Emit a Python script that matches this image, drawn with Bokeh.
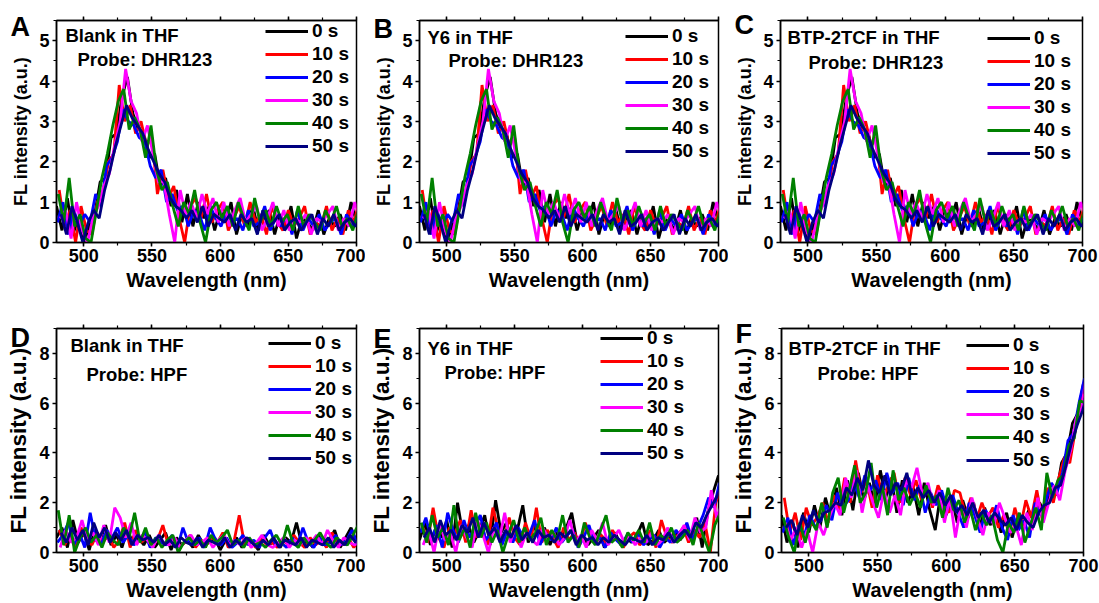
from bokeh.plotting import figure
from bokeh.models import (Range1d, SingleIntervalTicker, LinearAxis, Label, Legend, LegendItem,
                          CustomLabelingPolicy)
from bokeh.layouts import column, row
from bokeh.embed import file_html
from bokeh.resources import INLINE

# ---------------- data ----------------
wavelength = list(range(480, 701, 4))  # nm, 56 readings per curve
series_shift = [0.0, 2.0, 0.7, 2.7, 1.3, 3.3]  # reading positions of each curve (nm)

time_labels = ["0 s", "10 s", "20 s", "30 s", "40 s", "50 s"]
colors = ["#000000", "#ff0000", "#0000ff", "#ff00ff", "#008000", "#000080"]

# DHR123 probe (panels A-C look identical)
dhr_0s = [0.9, 0.3, 1.1, 0.2, 0.6, 0.0, 0.4, 0.7,
          1.5, 1.6, 2.6, 2.7, 3.6, 4.1, 3.2, 2.8,
          2.7, 2.1, 2.2, 1.4, 1.6, 0.9, 1.3, 0.5,
          1.2, 0.4, 1.0, 0.6, 0.9, 0.3, 0.8, 0.5,
          1.0, 0.2, 0.7, 0.4, 0.9, 0.3, 0.6, 0.8,
          0.2, 0.7, 0.4, 0.9, 0.1, 0.6, 0.5, 0.3,
          0.8, 0.2, 0.6, 0.4, 0.7, 0.3, 1.0, 0.5]
dhr_10s = [1.3, 0.4, 0.8, 0.0, 0.9, 0.3, 0.2, 1.0,
           1.2, 2.0, 2.2, 3.9, 3.0, 3.4, 2.7, 3.0,
           2.4, 2.6, 1.2, 1.8, 1.1, 1.4, 0.6, 0.0,
           0.9, 1.1, 0.6, 1.2, 0.5, 0.8, 1.0, 0.3,
           0.6, 0.9, 0.4, 1.0, 0.5, 0.7, 0.2, 0.9,
           0.5, 0.3, 0.8, 0.4, 0.6, 0.9, 0.2, 0.5,
           0.4, 0.9, 0.3, 0.6, 0.2, 0.8, 0.5, 1.0]
dhr_20s = [0.5, 1.0, 0.2, 0.8, 0.4, 0.7, 0.5, 1.2,
           0.9, 1.9, 2.1, 2.5, 3.3, 3.0, 2.9, 2.6,
           2.5, 1.9, 1.6, 1.8, 1.0, 1.2, 0.8, 0.9,
           0.4, 0.8, 0.7, 0.3, 0.9, 0.6, 0.4, 0.8,
           0.5, 0.6, 0.3, 0.8, 0.4, 0.5, 0.9, 0.3,
           0.6, 0.4, 0.7, 0.2, 0.8, 0.3, 0.6, 0.4,
           0.7, 0.3, 0.5, 0.6, 0.2, 0.7, 0.4, 0.6]
dhr_30s = [0.6, 0.8, 0.1, 1.0, 0.3, 0.0, 0.6, 0.9,
           1.4, 1.7, 2.4, 3.0, 4.3, 3.5, 3.2, 2.5,
           2.9, 2.2, 1.5, 1.5, 0.7, 0.0, 1.3, 0.7,
           1.0, 0.6, 1.2, 0.7, 1.1, 0.5, 1.0, 0.4,
           0.8, 1.1, 0.5, 0.7, 0.9, 0.3, 0.6, 1.0,
           0.4, 0.8, 0.3, 0.6, 0.5, 0.7, 0.2, 0.6,
           0.5, 0.7, 0.9, 0.3, 0.6, 0.4, 1.0, 0.6]
dhr_40s = [1.2, 0.5, 1.6, 0.4, 0.7, 0.1, 0.0, 0.8,
           1.6, 2.2, 2.9, 3.5, 3.8, 2.8, 3.1, 2.8,
           2.1, 2.9, 1.8, 1.3, 1.5, 0.9, 0.4, 1.0,
           0.7, 1.3, 0.5, 0.0, 0.8, 1.0, 0.6, 0.9,
           0.4, 1.0, 0.6, 0.3, 1.1, 0.5, 0.8, 0.4,
           0.9, 0.5, 0.7, 0.3, 0.9, 0.4, 0.7, 0.5,
           0.3, 0.8, 0.5, 0.9, 0.4, 0.6, 0.3, 0.8]
dhr_50s = [0.7, 0.2, 0.9, 0.5, 0.0, 0.5, 0.8, 0.6,
           1.3, 1.8, 2.4, 2.9, 3.4, 3.1, 2.9, 2.7,
           2.3, 2.0, 1.7, 1.5, 1.1, 0.9, 0.8, 0.6,
           0.8, 0.5, 0.9, 0.4, 0.7, 0.6, 0.5, 0.7,
           0.3, 0.7, 0.5, 0.6, 0.2, 0.8, 0.4, 0.5,
           0.7, 0.3, 0.5, 0.6, 0.3, 0.5, 0.7, 0.2,
           0.6, 0.4, 0.7, 0.3, 0.5, 0.6, 0.4, 0.6]

# HPF probe, blank (D)
blank_hpf_0s = [0.6, 1.0, 0.2, 1.3, 0.4, 0.8, 0.1, 0.9,
                0.5, 1.1, 0.3, 0.7, 0.2, 0.9, 0.4, 0.6,
                0.3, 0.7, 0.2, 0.5, 0.8, 0.1, 0.6, 0.3,
                0.5, 0.2, 0.7, 0.3, 0.4, 0.6, 0.1, 0.5,
                0.3, 0.6, 0.2, 0.5, 0.4, 0.1, 0.7, 0.3,
                0.5, 0.2, 0.6, 0.4, 1.2, 0.3, 0.5, 0.2,
                0.7, 0.3, 0.5, 0.9, 0.2, 0.6, 1.0, 0.4]
blank_hpf_10s = [0.9, 0.3, 0.7, 0.2, 1.0, 0.5, 0.3, 0.8,
                 0.4, 0.7, 0.2, 0.5, 1.2, 0.2, 0.9, 0.4,
                 0.6, 0.3, 0.5, 1.1, 0.3, 0.6, 0.2, 0.4,
                 0.7, 0.2, 0.5, 0.3, 0.6, 0.4, 0.8, 0.2,
                 0.4, 1.5, 0.3, 0.5, 0.2, 0.6, 0.3, 0.4,
                 0.2, 0.5, 0.3, 0.7, 0.4, 0.2, 0.6, 0.3,
                 0.5, 0.2, 0.8, 0.4, 0.3, 0.6, 0.2, 0.5]
blank_hpf_20s = [0.4, 0.7, 1.2, 0.3, 0.8, 0.2, 1.6, 0.5,
                 0.3, 0.9, 0.6, 1.0, 0.4, 0.7, 0.3, 0.5,
                 0.8, 0.2, 0.6, 0.4, 0.3, 0.7, 0.2, 1.0,
                 0.4, 0.3, 0.6, 0.2, 1.0, 0.5, 0.3, 0.6,
                 0.2, 0.4, 0.7, 0.3, 0.5, 0.2, 0.6, 0.9,
                 0.3, 0.4, 0.2, 0.6, 0.3, 1.0, 0.4, 0.2,
                 0.6, 0.3, 0.4, 0.7, 0.3, 0.5, 0.9, 0.3]
blank_hpf_30s = [0.2, 0.9, 0.4, 0.6, 1.3, 0.5, 0.8, 0.3,
                 1.1, 0.4, 1.8, 1.4, 0.6, 1.2, 0.3, 0.7,
                 0.5, 0.2, 0.7, 0.4, 0.3, 0.6, 0.2, 0.5,
                 0.7, 0.3, 0.4, 0.6, 0.2, 0.5, 0.7, 0.3,
                 0.5, 0.3, 0.6, 0.2, 0.4, 0.7, 0.3, 0.2,
                 0.4, 0.6, 0.2, 0.5, 0.3, 0.6, 0.4, 0.7,
                 0.3, 0.9, 0.5, 0.2, 0.6, 0.4, 0.3, 0.5]
blank_hpf_40s = [1.7, 0.3, 1.5, 0.0, 0.6, 1.0, 0.4, 0.7,
                 0.2, 0.8, 0.5, 0.3, 1.0, 0.6, 1.6, 0.4,
                 1.0, 0.3, 0.6, 0.2, 0.5, 0.7, 0.0, 0.4,
                 0.6, 0.3, 0.5, 0.2, 0.7, 0.4, 0.6, 0.9,
                 0.3, 0.5, 0.2, 0.6, 0.3, 0.4, 0.2, 0.5,
                 0.7, 0.3, 1.1, 0.4, 0.2, 0.6, 0.3, 0.5,
                 0.8, 0.4, 0.2, 0.6, 0.4, 0.3, 0.7, 1.1]
blank_hpf_50s = [0.8, 0.4, 1.0, 0.5, 0.9, 0.3, 1.2, 0.6,
                 1.0, 0.4, 0.8, 0.5, 0.9, 0.3, 0.7, 0.5,
                 0.6, 0.4, 0.7, 0.3, 0.5, 0.2, 0.6, 0.4,
                 0.3, 0.6, 0.2, 0.5, 0.4, 0.3, 0.6, 0.2,
                 0.5, 0.3, 0.6, 0.4, 0.2, 0.5, 0.3, 0.6,
                 0.2, 0.5, 0.4, 0.3, 0.6, 0.2, 0.5, 0.4,
                 0.3, 0.6, 0.2, 0.5, 0.3, 0.7, 0.4, 0.6]

# HPF probe, Y6 (E)
y6_hpf_0s = [0.5, 1.2, 0.3, 1.0, 0.6, 1.3, 0.2, 2.0,
             0.7, 1.1, 0.4, 0.9, 1.5, 0.3, 2.1, 0.8,
             1.2, 0.5, 0.9, 1.9, 0.4, 1.1, 0.6, 1.0,
             0.3, 0.8, 0.5, 1.0, 1.6, 0.4, 0.7, 0.3,
             0.6, 0.9, 0.2, 0.5, 0.8, 0.3, 0.6, 0.4,
             0.7, 1.2, 0.3, 0.5, 0.9, 0.4, 0.6, 0.8,
             0.5, 1.1, 0.7, 1.4, 0.2, 1.6, 2.4, 3.1]
y6_hpf_10s = [1.1, 0.4, 1.8, 0.6, 0.2, 1.0, 0.7, 1.3,
              0.4, 1.7, 0.6, 1.0, 0.3, 1.8, 0.9, 0.5,
              1.4, 0.6, 0.3, 1.2, 0.5, 1.8, 0.4, 0.9,
              0.6, 0.2, 1.0, 0.5, 0.8, 0.3, 1.2, 0.6,
              0.4, 0.7, 0.3, 0.9, 0.5, 0.2, 0.6, 0.8,
              0.3, 0.5, 0.9, 0.2, 1.3, 0.6, 0.4, 0.7,
              1.0, 0.4, 0.9, 0.6, 1.2, 0.0, 2.0, 2.6]
y6_hpf_20s = [0.8, 1.4, 0.5, 1.1, 0.2, 1.6, 0.9, 0.4,
              1.3, 0.6, 1.0, 1.5, 0.5, 0.8, 1.2, 0.3,
              0.9, 0.4, 1.0, 0.6, 0.7, 1.3, 0.3, 0.8,
              0.5, 1.0, 0.4, 0.7, 0.9, 0.2, 0.6, 1.1,
              0.4, 0.6, 0.2, 0.8, 0.5, 0.3, 0.7, 0.4,
              0.8, 0.3, 0.5, 0.7, 0.2, 0.6, 0.4, 0.9,
              0.6, 1.2, 0.5, 1.0, 1.5, 2.2, 1.8, 2.8]
y6_hpf_30s = [0.3, 0.9, 0.0, 1.2, 0.5, 0.8, 0.0, 1.1,
              0.6, 0.2, 1.3, 0.7, 0.0, 1.0, 0.5, 1.6,
              0.4, 1.1, 0.2, 0.8, 0.5, 0.3, 1.0, 0.6,
              0.8, 0.3, 0.6, 1.3, 0.4, 0.7, 0.2, 0.9,
              0.5, 1.2, 0.3, 0.6, 0.9, 0.4, 0.7, 0.3,
              0.6, 0.4, 0.8, 0.3, 0.5, 1.0, 0.4, 0.7,
              1.1, 0.5, 1.4, 0.8, 1.0, 2.5, 1.4, 2.0]
y6_hpf_40s = [1.2, 0.4, 1.5, 0.6, 1.0, 0.3, 1.9, 0.5,
              1.0, 0.2, 1.6, 0.6, 1.2, 0.4, 0.9, 0.0,
              0.7, 1.3, 0.4, 1.0, 0.5, 0.8, 1.4, 0.3,
              0.9, 0.5, 1.5, 0.4, 0.7, 0.2, 1.2, 0.6,
              0.3, 0.9, 1.5, 0.4, 0.6, 0.2, 0.8, 0.5,
              0.9, 0.4, 1.2, 0.3, 0.7, 0.5, 1.0, 0.4,
              0.6, 0.9, 0.3, 1.2, 0.6, 0.0, 1.1, 1.6]
y6_hpf_50s = [0.6, 1.0, 0.4, 1.3, 0.7, 0.9, 0.5, 1.1,
              0.8, 1.4, 0.6, 1.2, 0.7, 1.0, 0.4, 0.9,
              0.6, 1.1, 0.5, 0.8, 0.4, 0.9, 0.6, 0.7,
              0.4, 0.8, 0.6, 0.9, 0.3, 0.7, 0.5, 0.6,
              0.3, 0.6, 0.4, 0.7, 0.5, 0.3, 0.6, 0.5,
              0.4, 0.7, 0.3, 0.6, 0.5, 0.8, 0.4, 0.7,
              0.9, 0.6, 1.2, 1.0, 1.5, 1.9, 2.3, 2.9]

# HPF probe, BTP-2TCF (F)
btp_hpf_0s = [1.5, 0.4, 1.3, 0.2, 1.6, 0.8, 1.9, 1.0,
              2.2, 1.4, 2.6, 1.5, 2.9, 1.7, 3.2, 2.1,
              2.8, 1.9, 3.3, 2.2, 3.0, 1.6, 2.9, 2.0,
              2.6, 1.5, 2.8, 1.7, 0.9, 2.4, 1.5, 2.2,
              1.2, 2.1, 1.4, 2.0, 0.9, 1.8, 1.1, 1.6,
              0.8, 1.6, 0.6, 1.4, 1.0, 1.7, 1.2, 2.0,
              1.6, 2.5, 2.3, 3.6, 4.0, 5.2, 5.6, 6.8]
btp_hpf_10s = [2.2, 0.8, 1.6, 0.5, 1.8, 1.1, 1.4, 2.0,
               1.2, 2.3, 1.7, 3.0, 2.0, 3.7, 2.4, 2.9,
               1.8, 3.1, 2.2, 2.7, 3.2, 2.0, 3.0, 2.3,
               2.9, 2.1, 2.6, 1.8, 2.7, 2.2, 1.6, 2.5,
               2.4, 1.5, 2.2, 1.3, 2.0, 1.4, 1.8, 1.0,
               1.5, 0.7, 1.8, 1.0, 2.1, 1.4, 2.5, 1.3,
               2.6, 2.0, 3.0, 3.8, 3.6, 4.9, 6.2, 6.4]
btp_hpf_20s = [0.8, 1.4, 0.3, 1.1, 0.7, 1.5, 1.0, 1.3,
               1.9, 1.3, 2.4, 1.8, 2.1, 2.8, 2.2, 3.1,
               2.5, 2.9, 2.1, 3.2, 2.4, 2.8, 1.9, 3.0,
               2.1, 2.7, 1.6, 2.4, 1.9, 2.5, 1.7, 2.3,
               1.6, 1.0, 2.0, 1.5, 0.8, 1.7, 1.2, 1.9,
               1.0, 0.5, 1.5, 0.9, 1.3, 0.6, 2.0, 1.5,
               2.1, 2.8, 2.4, 3.2, 4.5, 4.8, 6.0, 7.0]
btp_hpf_30s = [1.2, 0.5, 1.0, 0.2, 0.9, 0.0, 1.2, 0.7,
               1.4, 2.0, 1.5, 3.0, 2.2, 3.3, 1.6, 2.7,
               2.0, 1.4, 2.5, 1.6, 2.3, 1.5, 2.9, 2.6,
               3.4, 2.3, 2.8, 1.9, 2.5, 1.2, 2.2, 0.6,
               1.9, 1.0, 2.2, 1.4, 0.7, 1.6, 1.1, 2.0,
               1.4, 0.8, 1.1, 0.3, 1.6, 0.9, 2.2, 1.2,
               2.0, 2.7, 2.1, 3.3, 4.1, 5.4, 5.8, 7.4]
btp_hpf_40s = [1.4, 0.6, 0.0, 1.2, 0.4, 1.3, 0.9, 2.0,
               1.0, 2.4, 3.0, 1.6, 2.5, 3.5, 2.0, 2.4,
               3.6, 1.8, 2.7, 1.5, 3.3, 2.1, 2.6, 1.9,
               2.4, 1.8, 2.7, 2.0, 2.3, 1.4, 2.6, 1.7,
               2.1, 1.2, 1.8, 0.9, 1.6, 1.1, 1.5, 0.5,
               0.0, 1.2, 0.8, 1.6, 0.4, 1.1, 1.8, 0.9,
               3.2, 2.2, 2.9, 3.1, 4.3, 4.6, 6.1, 6.0]
btp_hpf_50s = [1.0, 1.3, 0.7, 1.5, 1.0, 1.7, 1.2, 1.6,
               1.7, 2.0, 1.9, 2.6, 2.3, 3.0, 2.5, 3.7,
               2.7, 2.4, 3.1, 2.3, 2.8, 2.5, 3.2, 2.2,
               2.6, 2.2, 2.5, 2.0, 2.4, 1.9, 2.3, 1.6,
               1.9, 1.5, 2.0, 1.4, 1.7, 1.2, 1.6, 1.3,
               1.1, 1.4, 0.9, 1.5, 1.2, 1.0, 1.6, 1.9,
               2.0, 2.6, 2.7, 3.5, 4.4, 5.1, 5.7, 6.5]

dhr_series = [dhr_0s, dhr_10s, dhr_20s, dhr_30s, dhr_40s, dhr_50s]
blank_hpf_series = [blank_hpf_0s, blank_hpf_10s, blank_hpf_20s, blank_hpf_30s, blank_hpf_40s, blank_hpf_50s]
y6_hpf_series = [y6_hpf_0s, y6_hpf_10s, y6_hpf_20s, y6_hpf_30s, y6_hpf_40s, y6_hpf_50s]
btp_hpf_series = [btp_hpf_0s, btp_hpf_10s, btp_hpf_20s, btp_hpf_30s, btp_hpf_40s, btp_hpf_50s]

FONT = "Liberation Sans"
HIDE_LABELS = "for (const i of [...indices]) indices.unset(i); return indices"


def style_axis(ax):
    ax.axis_line_color = "black"
    ax.axis_line_width = 1.5
    ax.major_tick_line_color = "black"
    ax.major_tick_line_width = 1.5
    ax.minor_tick_line_color = "black"
    ax.minor_tick_line_width = 1.2
    ax.major_tick_out = 4
    ax.major_tick_in = 0
    ax.minor_tick_out = 3
    ax.minor_tick_in = 0
    ax.major_label_text_font = FONT
    ax.major_label_text_font_style = "bold"
    ax.major_label_text_font_size = "18px"
    ax.major_label_text_color = "black"
    ax.axis_label_text_font = FONT
    ax.axis_label_text_font_style = "bold"
    ax.axis_label_text_color = "black"


def make_panel(series, letter, line1, line2, y_end, y_step, width, height, frame_h,
               bl, br, bt, txt_off, leg_off, ylab_size, letter_shift):
    frame_w = width - bl - br
    p = figure(width=width, height=height, output_backend="svg", toolbar_location=None,
               x_range=Range1d(480, 700), y_range=Range1d(0, y_end),
               x_axis_location=None, y_axis_location=None)
    p.min_border_left = bl
    p.min_border_right = br
    p.min_border_top = bt
    p.min_border_bottom = height - bt - frame_h
    p.frame_width = frame_w
    p.frame_height = frame_h
    p.grid.visible = False
    p.outline_line_color = "black"
    p.outline_line_width = 1.5
    p.border_fill_color = "white"

    xb = LinearAxis(ticker=SingleIntervalTicker(interval=50, num_minor_ticks=2),
                    axis_label="Wavelength (nm)")
    yl = LinearAxis(ticker=SingleIntervalTicker(interval=y_step, num_minor_ticks=2),
                    axis_label="FL intensity (a.u.)")
    xt = LinearAxis(ticker=SingleIntervalTicker(interval=50, num_minor_ticks=2))
    for ax in (xb, yl, xt):
        style_axis(ax)
    xb.axis_label_text_font_size = "20px"
    xb.major_label_standoff = 2
    xb.axis_label_standoff = 4
    yl.axis_label_text_font_size = ylab_size
    yl.major_label_standoff = 3
    yl.axis_label_standoff = 5
    xt.major_label_policy = CustomLabelingPolicy(code=HIDE_LABELS)
    xt.major_label_standoff = 0
    p.add_layout(xb, "below")
    p.add_layout(yl, "left")
    p.add_layout(xt, "above")

    items = []
    for s, shift, c, lab in zip(series, series_shift, colors, time_labels):
        xs = [w + shift for w in wavelength]
        r = p.line(xs, s, line_color=c, line_width=2.8)
        items.append(LegendItem(label=lab, renderers=[r]))

    leg_h = 6 * 22 + 5 * 1
    legend = Legend(items=items, location=(leg_off[0], frame_h - leg_off[1] - leg_h),
                    padding=0, margin=0, spacing=1, label_height=22, glyph_height=22,
                    glyph_width=43, label_standoff=4, border_line_color=None,
                    background_fill_alpha=0, label_text_font=FONT,
                    label_text_font_style="bold", label_text_font_size="19px",
                    label_text_color="black")
    p.add_layout(legend, "center")

    # panel letter, drawn as the plot title, pulled down beside the frame's top-left corner
    p.title.text = letter
    p.title.align = "left"
    p.title.offset = -46
    p.title.vertical_align = "bottom"
    p.title.standoff = letter_shift
    p.title.text_font = FONT
    p.title.text_font_style = "bold"
    p.title.text_font_size = "27px"
    p.title.text_color = "black"

    p.add_layout(Label(x=480, y=y_end, x_offset=txt_off[0], y_offset=-txt_off[1], text=line1,
                       text_font=FONT, text_font_style="bold", text_font_size="18.5px",
                       text_baseline="middle", text_color="black"))
    p.add_layout(Label(x=480, y=y_end, x_offset=txt_off[2], y_offset=-txt_off[3], text=line2,
                       text_font=FONT, text_font_style="bold", text_font_size="18.5px",
                       text_baseline="middle", text_color="black"))
    return p


pA = make_panel(dhr_series, "A", "Blank in THF", "Probe: DHR123", 5.5, 1, 365, 300, 222,
                56, 9, 18, (9, 15, 21, 39), (209, 0), "18px", -82)
pB = make_panel(dhr_series, "B", "Y6 in THF", "Probe: DHR123", 5.5, 1, 363, 300, 222,
                54, 10, 18, (8, 17, 29, 40), (206, 5), "18px", -86)
pC = make_panel(dhr_series, "C", "BTP-2TCF in THF", "Probe: DHR123", 5.5, 1, 371, 300, 222,
                52, 17, 18, (7, 17, 28, 42), (207, 7), "18px", -78)
pD = make_panel(blank_hpf_series, "D", "Blank in THF", "Probe: HPF", 9, 2, 365, 303, 224,
                56, 9, 24, (14, 17, 30, 46), (212, 4), "22.5px", -88)
pE = make_panel(y6_hpf_series, "E", "Y6 in THF", "Probe: HPF", 9, 2, 363, 303, 224,
                54, 10, 26, (8, 20, 25, 44), (181, -1), "22.5px", -90)
pF = make_panel(btp_hpf_series, "F", "BTP-2TCF in THF", "Probe: HPF", 9, 2, 371, 303, 224,
                52, 17, 26, (7, 20, 36, 45), (185, 6), "22.5px", -80)

layout = column(row(pA, pB, pC, spacing=0), row(pD, pE, pF, spacing=0), spacing=0)
open("out.html", "w").write(file_html(layout, INLINE))
